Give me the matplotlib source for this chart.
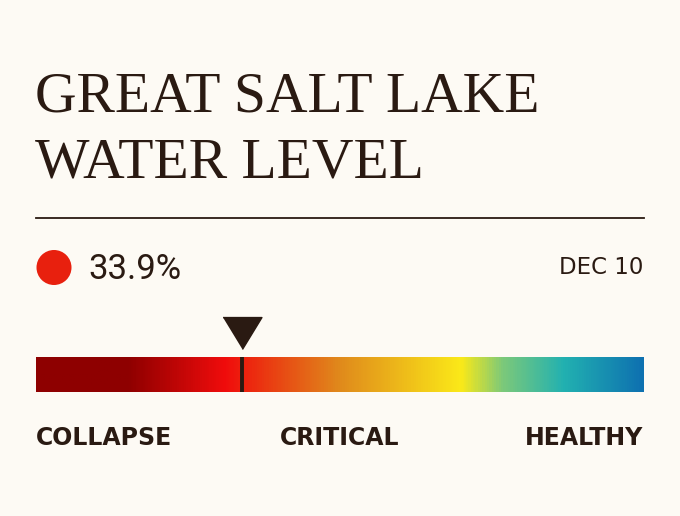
import numpy as np
import matplotlib
matplotlib.use("Agg")
import matplotlib.pyplot as plt
from matplotlib.colors import LinearSegmentedColormap

# data
title_lines = ["GREAT SALT LAKE", "WATER LEVEL"]
level_pct = 33.9
date_label = "DEC 10"
zone_labels = ["COLLAPSE", "CRITICAL", "HEALTHY"]
stop_pos = [0.0, 0.15, 0.31, 0.50, 0.70, 0.77, 0.87, 1.0]
stop_colors = ["#8e0000", "#8e0000", "#f00c0c", "#e08a1c", "#fbe918", "#7cc97a", "#22b1b1", "#0e71b0"]

bg = "#fdfaf4"
ink = "#2a1a12"

W, H = 680, 516
fig = plt.figure(figsize=(W / 100, H / 100), dpi=100, facecolor=bg)

# full-figure axes in pixel coords for text/layout
ax = fig.add_axes([0, 0, 1, 1])
ax.set_xlim(0, W)
ax.set_ylim(H, 0)
ax.axis("off")

for line, y in zip(title_lines, [111, 177]):
    ax.text(35, y, line, fontsize=41.5, family="Liberation Serif",
            color=ink, va="baseline", ha="left")

ax.plot([36, 644], [218, 218], color=ink, lw=1.3)

ax.add_patch(plt.Circle((54, 267.5), 17.5, color="#e8200e", lw=0))
ax.text(88, 279, f"{level_pct:.1f}%", fontsize=25, family="Roboto",
        color=ink, va="baseline", ha="left")
ax.text(643, 274, date_label, fontsize=16.5, family="DejaVu Sans",
        color=ink, va="baseline", ha="right")

# gradient bar
bx = fig.add_axes([36 / W, (H - 392) / H, 608 / W, 35 / H])
cmap = LinearSegmentedColormap.from_list("lake", list(zip(stop_pos, stop_colors)))
grad = np.linspace(0, 1, 600).reshape(1, -1)
bx.imshow(grad, cmap=cmap, aspect="auto", extent=[0, 100, 0, 1])
bx.set_xlim(0, 100)
bx.set_ylim(0, 1)
bx.axis("off")
bx.axvline(level_pct, color=ink, lw=2.8)
tri = [(-1, 0.82), (1, 0.82), (0, -0.82)]
bx.plot([level_pct], [1.68], marker=tri, markersize=28, color=ink,
        clip_on=False, lw=0)

# zone labels
for lab, x, ha in zip(zone_labels, [36, 340, 643], ["left", "center", "right"]):
    ax.text(x, 445, lab, fontsize=17, family="DejaVu Sans", weight="bold",
            color=ink, va="baseline", ha=ha)

fig.savefig("out.png", dpi=100, facecolor=bg)
